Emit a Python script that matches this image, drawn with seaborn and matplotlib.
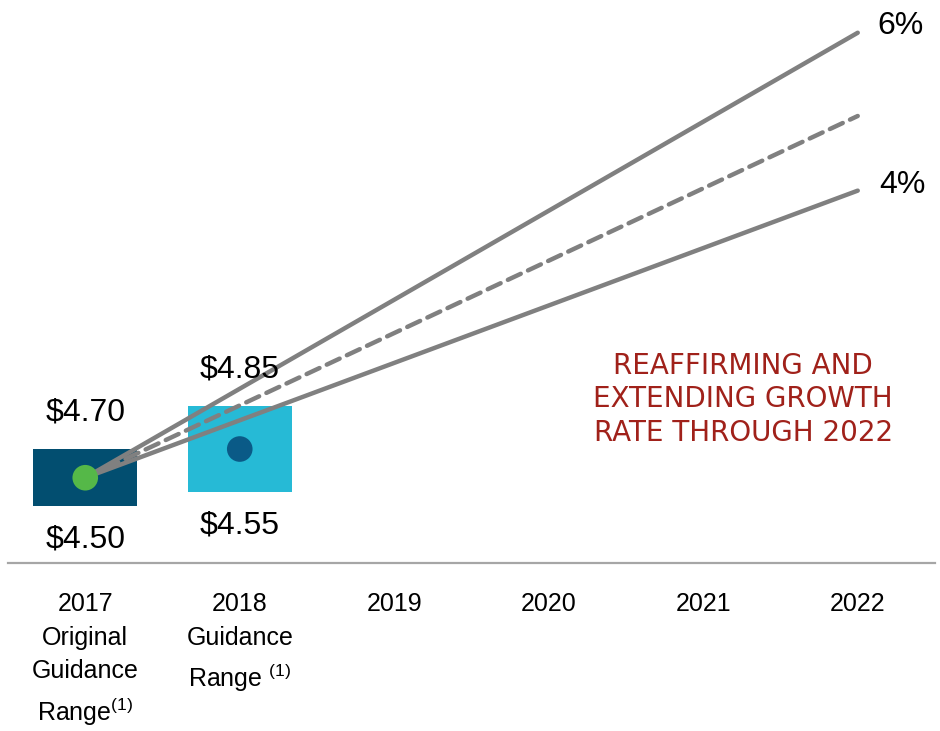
import numpy as np
import pandas as pd
import matplotlib
matplotlib.use("Agg")
import matplotlib.pyplot as plt
import seaborn as sns

# categories on the x axis
years = ["2017\nOriginal\nGuidance\nRange$^{(1)}$", "2018\nGuidance\nRange $^{(1)}$",
         "2019", "2020", "2021", "2022"]

# guidance ranges
range_low = [4.50, 4.55]
range_high = [4.70, 4.85]
range_mid = [4.60, 4.70]
bar_colors = ["#024E70", "#26BAD6"]
dot_colors = ["#55B848", "#0A5A87"]

# growth lines from 2017 midpoint to 2022 (4%, 5%, 6%)
line_x = [0, 5]
line_6 = [4.60, 6.15]
line_5 = [4.60, 5.86]
line_4 = [4.60, 5.60]

sns.set_style("white")
plt.rcParams["font.family"] = ["Liberation Sans", "DejaVu Sans"]
plt.rcParams["text.color"] = "black"
plt.rcParams["xtick.color"] = "black"
plt.rcParams["mathtext.fontset"] = "custom"
plt.rcParams["mathtext.rm"] = "Liberation Sans"
plt.rcParams["mathtext.it"] = "Liberation Sans"

fig = plt.figure(figsize=(9.4, 7.31), dpi=100)
ax = fig.add_axes([8 / 940, 1 - 563 / 731, 927 / 940, 563 / 731])

bars = pd.DataFrame({"year": years[:2],
                     "size": np.array(range_high) - np.array(range_low)})
sns.barplot(data=bars, x="year", y="size", order=years, width=0.67,
            bottom=range_low, color=bar_colors[0], saturation=1,
            ax=ax, errorbar=None)
for patch, c in zip(ax.patches, bar_colors):
    patch.set_facecolor(c)
    patch.set_edgecolor("none")

gray = "#808080"
sns.lineplot(x=line_x, y=line_6, ax=ax, color=gray, lw=3.2, solid_capstyle="round")
sns.lineplot(x=line_x, y=line_4, ax=ax, color=gray, lw=3.2, solid_capstyle="round")
sns.lineplot(x=line_x, y=line_5, ax=ax, color=gray, lw=3.2,
             linestyle=(0, (3.2, 1.8)), dash_capstyle="round")

ax.scatter([0, 1], range_mid, s=340, c=dot_colors, zorder=5, linewidths=0)

for i in range(2):
    ax.annotate(f"${range_high[i]:.2f}", (i, range_high[i]), xytext=(0, 26),
                textcoords="offset points", ha="center", va="center", fontsize=23)
    ax.annotate(f"${range_low[i]:.2f}", (i, range_low[i]), xytext=(0, -24),
                textcoords="offset points", ha="center", va="center", fontsize=23)

ax.annotate("6%", (5, line_6[1]), xytext=(31, 5), textcoords="offset points",
            ha="center", va="center", fontsize=23)
ax.annotate("4%", (5, line_4[1]), xytext=(32, 4), textcoords="offset points",
            ha="center", va="center", fontsize=23)

ax.text(0.793, 0.291, "REAFFIRMING AND\nEXTENDING GROWTH\nRATE THROUGH 2022",
        transform=ax.transAxes, ha="center", va="center", color="#A0211A",
        fontsize=20, family="DejaVu Sans", linespacing=1.25)

ax.set_xlim(-0.5, 5.5)
ax.set_ylim(4.303, 6.264)
ax.set_xlabel("")
ax.set_ylabel("")
ax.set_yticks([])
for s in ["top", "left", "right"]:
    ax.spines[s].set_visible(False)
ax.spines["bottom"].set_color("#A6A6A6")
ax.spines["bottom"].set_linewidth(1.6)
ax.tick_params(axis="x", length=0, pad=21, labelsize=18)
for lbl in ax.get_xticklabels():
    lbl.set_linespacing(1.5)

fig.savefig("out.png", dpi=100)
